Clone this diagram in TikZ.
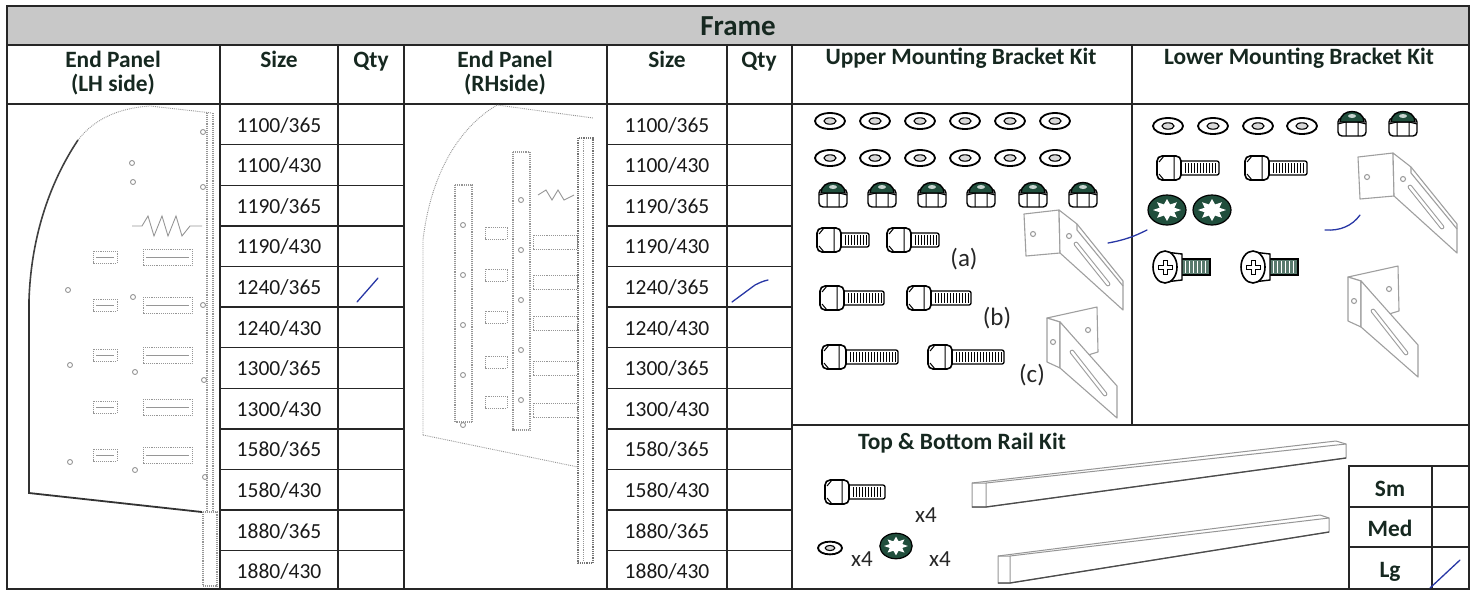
\documentclass[tikz,border=0pt]{standalone}
\usepackage{fontspec}
\setmainfont{Carlito}

\definecolor{bandgray}{RGB}{200,200,200}
\definecolor{inkgreen}{RGB}{22,40,32}
\definecolor{nutgreen}{RGB}{32,78,60}
\definecolor{penblue}{RGB}{40,55,165}
\definecolor{sketchgray}{RGB}{150,150,150}

\tikzset{
  grid/.style={line width=1.4pt, draw=black!85},
  hdr/.style={font=\bfseries\fontsize{23.4}{23.5}\selectfont, text=inkgreen, align=center, inner sep=0pt},
  sizetxt/.style={font=\fontsize{21.5}{22}\selectfont, text=black!90, inner sep=0pt, anchor=base},
  lbl/.style={font=\fontsize{25}{26}\selectfont, text=black!85, inner sep=0pt, anchor=base},
  tick/.style={penblue, line width=1.3pt, line cap=round},
  sketch/.style={sketchgray, line width=0.9pt},
  bracketline/.style={gray!75, line width=1.1pt, line join=round},
  pics/washer/.style={code={
    \draw[line width=1.8pt, fill=white] (0,0) ellipse (15 and 8);
    \draw[line width=1.1pt, fill=black!15] (0,0) ellipse (6 and 3.2);
  }},
  pics/nylnut/.style={code={
    \draw[line width=1.4pt, fill=white, rounded corners=4pt] (-14,-3) rectangle (14,15);
    \draw[line width=1pt] (-6,1) -- (-6,15) (6,1) -- (6,15) (-14,3) -- (-6,1) -- (6,1) -- (14,3);
    \draw[line width=1.4pt, fill=nutgreen] (-12,1) .. controls (-12,-13) and (12,-13) .. (12,1) -- cycle;
    \fill[white!75!nutgreen] (0,-5) ellipse (4 and 2);
  }},
  pics/hexbolt/.style={code={
    \pgfmathtruncatemacro\shankend{24+#1}
    \pgfmathtruncatemacro\threadend{21+#1}
    \draw[line width=1.3pt, fill=white, rounded corners=2pt] (20,-7) rectangle (\shankend,7);
    \foreach \t in {28,31,...,\threadend} \draw[line width=0.8pt] (\t,-5) -- (\t,5);
    \draw[line width=1.6pt, fill=white, rounded corners=5pt] (0,-12) rectangle (24,12);
    \draw[line width=1pt] (17,-12) -- (17,12) (2,-6) -- (7,-12) (2,6) -- (7,12);
  }},
  pics/starwasher/.style={code={
    \draw[line width=1.2pt, fill=nutgreen] (0,0) ellipse (19 and 15);
    \fill[white] (0:14 and 11) \foreach \a in {0,45,...,315}{ -- (\a:14 and 11) -- (\a+22.5:8 and 6)} -- cycle;
  }},
  pics/phscrew/.style={code={
    \draw[line width=1.2pt, fill=nutgreen!75] (12,-8) rectangle (45,8);
    \foreach \t in {20,24,...,42} \draw[white, line width=0.7pt] (\t,-6) -- (\t,6);
    \draw[line width=1.4pt, fill=white] (0,-15) -- (17,-13) -- (17,13) -- (0,15) -- cycle;
    \draw[line width=1.6pt, fill=white] (0,0) ellipse (12 and 16);
    \draw[line width=1pt, fill=white] (-2,-7) -- (2,-7) -- (2,-2) -- (7,-2) -- (7,2) -- (2,2) -- (2,7) -- (-2,7) -- (-2,2) -- (-7,2) -- (-7,-2) -- (-2,-2) -- cycle;
  }},
  pics/bracketA/.style={code={
    \draw[bracketline, fill=white] (0,0) -- (35,-4) -- (36,39) -- (2,42) -- cycle;
    \draw[bracketline, fill=white] (35,-4) -- (53,10) -- (99,67) -- (99,96) -- (36,39) -- cycle;
    \draw[bracketline] (53,10) -- (53,16) -- (99,72);
    \draw[bracketline, double=white, double distance=2.5pt, line cap=round] (52,30) -- (84,70);
    \draw[bracketline] (9,20) circle (2.5) (45,22) circle (2.5);
  }},
  pics/bracketC/.style={code={
    \draw[bracketline, fill=white] (0,0) -- (50,-11) -- (51,34) -- (41,37) -- (13,4) -- cycle;
    \draw[bracketline, fill=white] (0,0) -- (0,44) -- (13,50) -- (13,4) -- cycle;
    \draw[bracketline, fill=white] (13,4) -- (70,68) -- (70,100) -- (13,50) -- cycle;
    \draw[bracketline, double=white, double distance=2.5pt, line cap=round] (25,34) -- (58,76);
    \draw[bracketline] (41,12) circle (2.5) (6,24) circle (2.5);
  }}
}

\begin{document}
\begin{tikzpicture}[x=1pt, y=-1pt]
\useasboundingbox (0,0) rectangle (1477,590);

% table grid
\draw[grid, fill=bandgray] (7,6) rectangle (1469,45);
\draw[grid] (7,6) rectangle (1469,589);
\draw[grid] (7,104) -- (1469,104);
\foreach \x in {220,338,404,607,727,792} \draw[grid] (\x,45) -- (\x,589);
\draw[grid] (1132,45) -- (1132,425);
\draw[grid] (792,425) -- (1469,425);
\foreach \k in {1,...,11} {
  \draw[grid] (220,{104+40.6*\k}) -- (404,{104+40.6*\k});
  \draw[grid] (607,{104+40.6*\k}) -- (792,{104+40.6*\k});
}
\draw[grid] (1349,466) rectangle (1469,589);
\draw[grid] (1432,466) -- (1432,589);
\draw[grid] (1349,507) -- (1469,507) (1349,547) -- (1469,547);

% headings
\node (frame) [hdr, font=\bfseries\fontsize{29}{30}\selectfont, anchor=base] at (738,35) {Frame};
\node (hLH) [hdr, anchor=base] at (113,91) {End Panel\\(LH side)};
\node (hSizeL) [hdr, anchor=base] at (279,67) {Size};
\node (hQtyL) [hdr, anchor=base] at (371,67) {Qty};
\node (hRH) [hdr, anchor=base] at (505,91) {End Panel\\(RHside)};
\node (hSizeR) [hdr, anchor=base] at (667,67) {Size};
\node (hQtyR) [hdr, anchor=base] at (759,67) {Qty};
\node (hUpper) [hdr, anchor=base] at (961,64) {Upper Mounting Bracket Kit};
\node (hLower) [hdr, anchor=base] at (1299,64) {Lower Mounting Bracket Kit};
\node (hRail) [hdr, anchor=base] at (962,449) {Top \& Bottom Rail Kit};
\node (sm) [hdr, anchor=base] at (1390,496) {Sm};
\node (med) [hdr, anchor=base] at (1390,536) {Med};
\node (lg) [hdr, anchor=base] at (1390,577) {Lg};

% sizes
\foreach \a/\b [count=\i from 0] in {1100/365,1100/430,1190/365,1190/430,1240/365,1240/430,1300/365,1300/430,1580/365,1580/430,1880/365,1880/430} {
  \node (lsz\i) [sizetxt] at (279,{132+40.6*\i}) {\a/\b};
  \node (rsz\i) [sizetxt] at (667,{132+40.6*\i}) {\a/\b};
}

% LH end panel
\draw[line width=1.8pt, black!80] (29,300) -- (29,493) -- (202,512);
\draw[line width=1.6pt, black!75] (29,300) .. controls (31,240) and (48,185) .. (78,140);
\draw[sketch, densely dotted] (78,140) .. controls (95,118) and (120,108) .. (150,106) -- (212,113);
\draw[sketch, densely dotted, line width=1.1pt] (207,113) -- (207,512) (213,113) -- (213,512);
\draw[sketch, densely dotted, line width=1.1pt] (203,512) rectangle (217,586);
\foreach \hx/\hy in {203/132,132/163,133/182,203/187,68/290,133/297,203/305,70/365,135/372,204/380,70/462,135/470,205/477}
  \draw[sketch] (\hx,\hy) circle (2.5);
\foreach \y in {257,305,355,407,455} {
  \draw[sketch, densely dotted] (93,{\y-6}) rectangle (117,{\y+6});
  \draw[sketch, densely dotted] (143,{\y-8}) rectangle (192,{\y+8});
  \draw[sketch] (96,\y) -- (114,\y) (146,\y) -- (189,\y);
}
\draw[sketch] (132,226) -- (142,226) -- (148,216) -- (154,236) -- (162,216) -- (168,236) -- (176,216) -- (182,236) -- (190,226) -- (202,226);

% RH end panel
\draw[sketch, densely dotted] (423,435) -- (423,240) .. controls (430,180) and (455,130) .. (497,105) -- (593,118);
\draw[sketch, densely dotted] (423,435) -- (578,467);
\foreach \xa/\ya/\xb/\yb in {455/185/472/422, 513/152/530/430}
  \draw[sketch, densely dotted, line width=1.1pt] (\xa,\ya) rectangle (\xb,\yb);
\draw[black!55, densely dotted, line width=1.2pt] (578,138) rectangle (593,563);
\draw[sketch, densely dotted] (583,140) -- (583,561);
\foreach \y in {233,275,317,362,402}
  \draw[sketch, densely dotted] (485,{\y-6}) rectangle (507,{\y+6});
\foreach \y in {242,282,323,368,410}
  \draw[sketch, densely dotted] (533,{\y-7}) rectangle (577,{\y+7});
\foreach \y in {200,250,300,350,400}
  \draw[sketch] (521,\y) circle (2.5) (463,{\y+25}) circle (2.5);
\draw[sketch] (538,195) -- (546,190) -- (552,200) -- (558,190) -- (564,200) -- (574,195);

% upper mounting bracket kit
\foreach \x in {830,875,920,965,1010,1055} {
  \pic at (\x,121) {washer};
  \pic at (\x,158) {washer};
}
\foreach \x in {833,882,932,981,1033,1083} \pic at (\x,192) {nylnut};
\pic at (817,240) {hexbolt=28};
\pic at (887,240) {hexbolt=28};
\pic at (820,298) {hexbolt=40};
\pic at (907,298) {hexbolt=40};
\pic at (822,357) {hexbolt=52};
\pic at (928,357) {hexbolt=52};
\node (la) [lbl] at (964,266) {(a)};
\node (lb) [lbl] at (997,325) {(b)};
\node (lc) [lbl] at (1032,382) {(c)};
\pic at (1024,214) {bracketA};
\pic at (1047,318) {bracketC};

% lower mounting bracket kit
\foreach \x in {1168,1213,1258,1302} \pic at (\x,126) {washer};
\foreach \x in {1352,1403} \pic at (\x,121) {nylnut};
\pic at (1157,168) {hexbolt=38};
\pic at (1245,168) {hexbolt=38};
\pic at (1167,210) {starwasher};
\pic at (1212,210) {starwasher};
\pic at (1165,267) {phscrew};
\pic at (1253,267) {phscrew};
\pic at (1358,157) {bracketA};
\pic at (1348,277) {bracketC};

% top & bottom rail kit
\pic at (825,492) {hexbolt=36};
\node (x4a) [lbl, font=\fontsize{23}{24}\selectfont] at (926,522) {x4};
\pic[scale=0.8] at (830,548) {washer};
\node (x4b) [lbl, font=\fontsize{23}{24}\selectfont] at (862,566) {x4};
\pic[scale=0.85] at (896,546) {starwasher};
\node (x4c) [lbl, font=\fontsize{23}{24}\selectfont] at (940,566) {x4};
\draw[sketch, line width=1pt, fill=white] (972,483) -- (1336,441) -- (1346,444) -- (1346,458) -- (986,507) -- (972,507) -- cycle;
\draw[sketch, line width=1pt] (972,483) -- (986,483) -- (986,507) (986,483) -- (1346,444);
\draw[black!70, line width=1.3pt] (972,507) -- (986,507) -- (1346,458);
\draw[sketch, line width=1pt, fill=white] (998,556) -- (1320,515) -- (1329,518) -- (1329,532) -- (1010,583) -- (998,583) -- cycle;
\draw[sketch, line width=1pt] (998,556) -- (1010,556) -- (1010,583) (1010,556) -- (1329,518);
\draw[black!70, line width=1.3pt] (998,583) -- (1010,583) -- (1329,532);

% pen ticks
\draw[tick] (357,302) .. controls (364,294) and (372,285) .. (378,278);
\draw[tick] (732,302) -- (755,285) .. controls (759,283) and (763,281) .. (768,280);
\draw[tick] (1108,243) .. controls (1125,240) and (1135,236) .. (1147,230);
\draw[tick] (1325,230) .. controls (1340,231) and (1352,226) .. (1360,215);
\draw[tick] (1430,588) -- (1460,560);
\end{tikzpicture}
\end{document}
